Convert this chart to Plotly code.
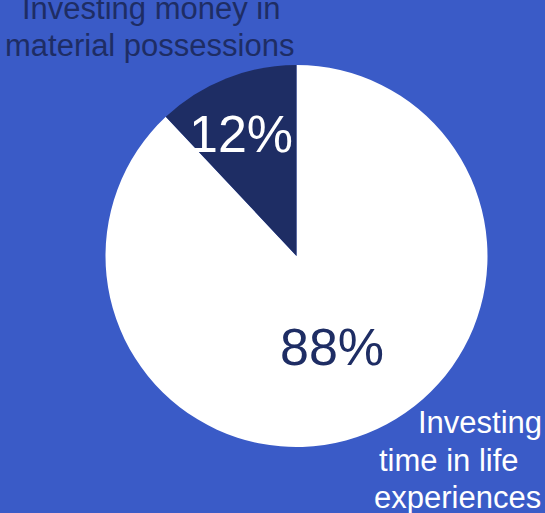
import plotly.graph_objects as go

# Survey split
categories = ["Investing time in life experiences", "Investing money in material possessions"]
shares = [88, 12]

W, H = 545, 513
BG = "#3a5bc7"
NAVY = "#1e2d64"
WHITE = "#ffffff"
FONT = "Liberation Sans, Arial, sans-serif"

# Pie geometry in pixels
cx, cy, r = 296.5, 256, 191


def px(x):
    return x / W


def py(y):
    return 1 - y / H


fig = go.Figure(
    go.Pie(
        labels=categories,
        values=shares,
        sort=False,
        direction="clockwise",
        rotation=0,
        marker=dict(colors=[WHITE, NAVY], line=dict(width=0)),
        textinfo="none",
        hoverinfo="label+percent",
        showlegend=False,
        domain=dict(x=[px(cx - r), px(cx + r)], y=[py(cy + r), py(cy - r)]),
    )
)

annotations = []

# Percentage labels inside the slices
pct_places = [
    (331.5, 347, NAVY),   # large slice
    (241, 134, WHITE),    # small slice
]
for v, (x, y, col) in zip(shares, pct_places):
    annotations.append(
        dict(
            text=f"{v}%",
            x=px(x), y=py(y), xref="paper", yref="paper",
            xanchor="center", yanchor="middle",
            showarrow=False,
            font=dict(family=FONT, size=52, color=col),
        )
    )

# Category captions, one annotation per line
caption_lines = [
    # (text, x, xanchor, y, color)
    ("Investing money in", 151, "center", 8.5, NAVY),
    ("material possessions", 149.5, "center", 45, NAVY),
    ("Investing", 544, "right", 422, WHITE),
    ("time in life", 448.5, "center", 460, WHITE),
    ("experiences", 457, "center", 497, WHITE),
]
for text, x, xa, y, col in caption_lines:
    annotations.append(
        dict(
            text=text,
            x=px(x), y=py(y), xref="paper", yref="paper",
            xanchor=xa, yanchor="middle",
            showarrow=False,
            font=dict(family=FONT, size=31, color=col),
        )
    )

fig.update_layout(
    width=W,
    height=H,
    margin=dict(l=0, r=0, t=0, b=0),
    paper_bgcolor=BG,
    plot_bgcolor=BG,
    annotations=annotations,
)

fig.write_html("out.html")
